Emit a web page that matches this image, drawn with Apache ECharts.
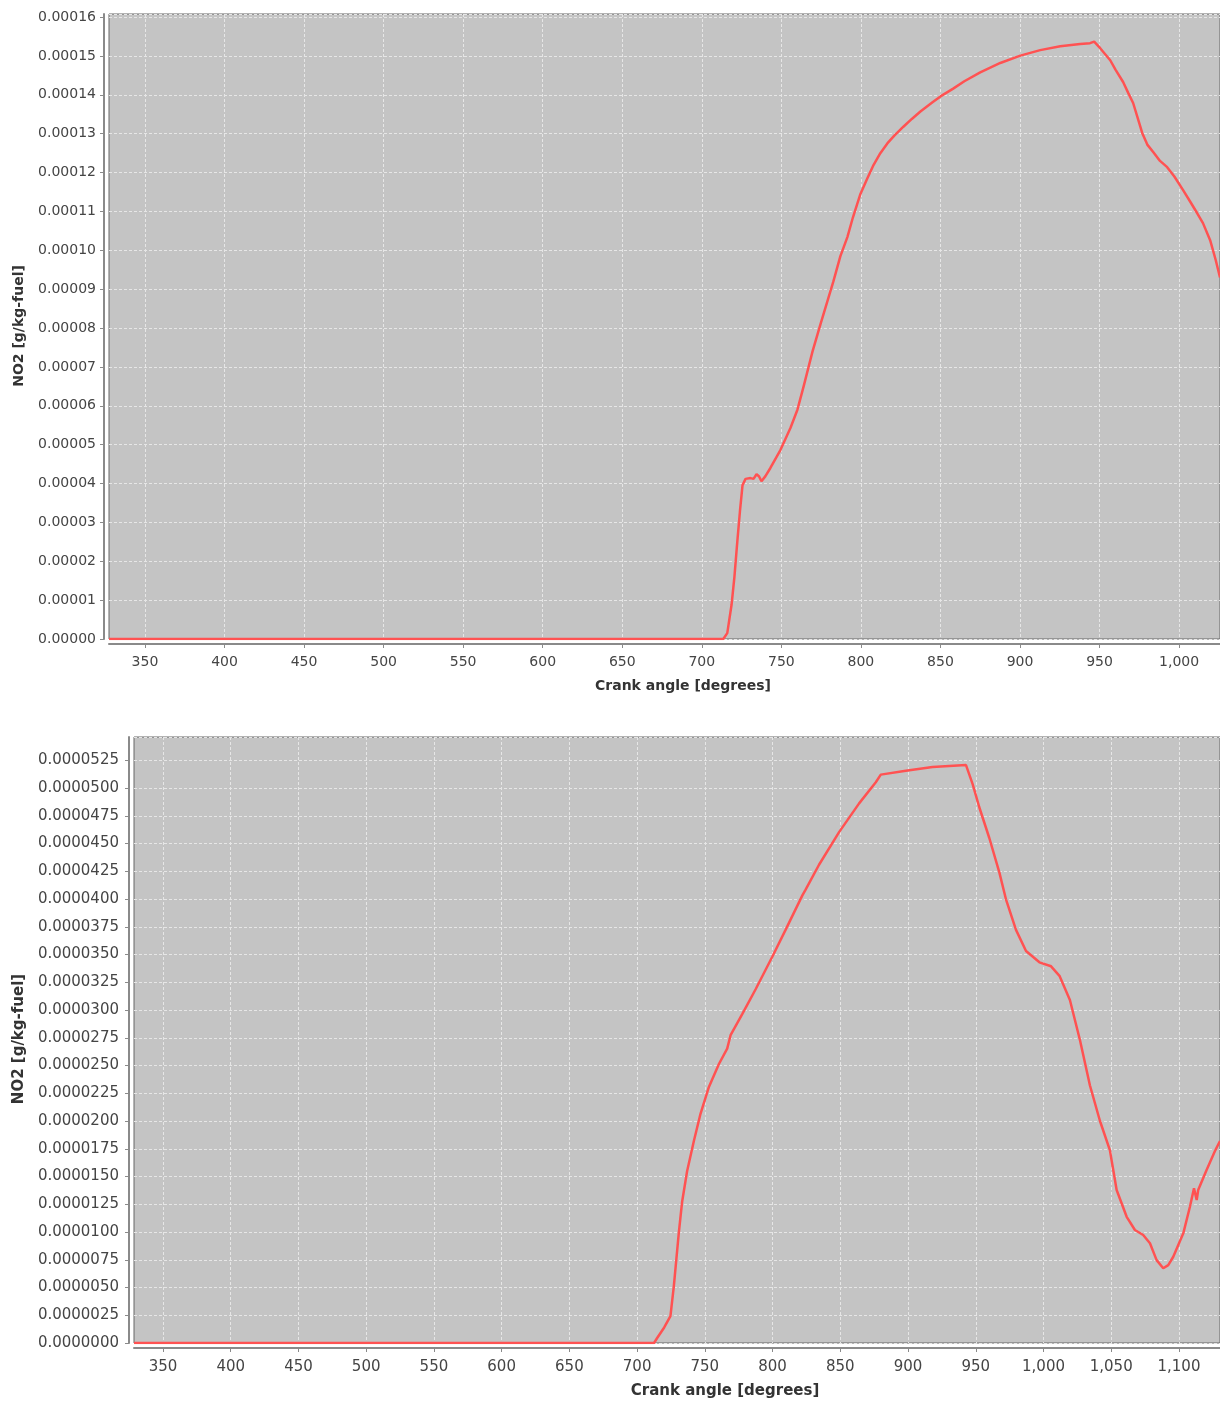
<!DOCTYPE html>
<html>
<head>
<meta charset="utf-8">
<script src="https://cdn.jsdelivr.net/npm/echarts@6/dist/echarts.min.js"></script>
<style>
html,body{margin:0;padding:0;background:#fff;}
#chart{width:1220px;height:1405px;}
</style>
</head>
<body>
<div id="chart"></div>
<script>
// ---- Top chart data: crank angle [deg] and NO2 [g/kg-fuel]
const crankTop = [327.4, 713.5, 716, 718.7, 720.5, 722.4, 724, 725.6, 727.5, 730.6, 732.5, 734.4, 736, 737.5, 740, 743.1, 749.4, 755.7, 760.1, 764, 769.6, 774.6, 782.7, 787.1, 791.5, 795, 799.7, 804, 808, 812.2, 816.6, 821, 826.7, 832, 837.4, 845, 850, 858, 865, 875, 887.6, 900.2, 912.7, 925.3, 937.8, 944, 946.6, 950.4, 956.7, 960, 964.8, 968, 971.1, 974, 976.8, 980, 983.7, 988, 992.5, 997, 1002.5, 1007, 1011.3, 1015, 1019.5, 1023, 1025.7];
const no2Top = [0, 0, 1.5e-6, 8.8e-6, 1.6e-5, 2.55e-5, 3.3e-5, 3.96e-5, 4.12e-5, 4.14e-5, 4.12e-5, 4.24e-5, 4.18e-5, 4.06e-5, 4.19e-5, 4.40e-5, 4.86e-5, 5.43e-5, 5.9e-5, 6.5e-5, 7.4e-5, 8.1e-5, 9.2e-5, 9.85e-5, 1.034e-4, 1.085e-4, 1.145e-4, 1.185e-4, 1.22e-4, 1.25e-4, 1.275e-4, 1.295e-4, 1.318e-4, 1.338e-4, 1.357e-4, 1.381e-4, 1.396e-4, 1.416e-4, 1.435e-4, 1.458e-4, 1.482e-4, 1.501e-4, 1.515e-4, 1.525e-4, 1.531e-4, 1.533e-4, 1.537e-4, 1.520e-4, 1.489e-4, 1.465e-4, 1.433e-4, 1.405e-4, 1.379e-4, 1.340e-4, 1.302e-4, 1.272e-4, 1.253e-4, 1.230e-4, 1.214e-4, 1.190e-4, 1.155e-4, 1.125e-4, 1.096e-4, 1.070e-4, 1.026e-4, 9.75e-5, 9.3e-5];

// ---- Bottom chart data
const crankBottom = [328.6, 712.5, 714.8, 720, 724.6, 727.1, 730.8, 733.2, 736.9, 741.9, 746.8, 753, 760.4, 766.5, 769, 777.6, 787.5, 799.8, 809.6, 822, 824.4, 834.3, 849.1, 863.9, 876.2, 879.9, 898.4, 918.1, 942.8, 944, 947.7, 952.6, 960, 967.4, 972.3, 979.7, 987.1, 997, 1005.6, 1011.8, 1019.5, 1026.9, 1034.3, 1041.7, 1049, 1051.5, 1054, 1061.4, 1067.5, 1073.6, 1078.6, 1083.5, 1088.4, 1092.1, 1095.8, 1103.2, 1108.1, 1111.1, 1113.1, 1114.2, 1120.4, 1126.9, 1130.3];
const no2Bottom = [0, 0, 4.5e-7, 1.4e-6, 2.42e-6, 5.11e-6, 9.94e-6, 1.27e-5, 1.547e-5, 1.82e-5, 2.065e-5, 2.307e-5, 2.514e-5, 2.652e-5, 2.773e-5, 2.963e-5, 3.187e-5, 3.48e-5, 3.722e-5, 4.033e-5, 4.085e-5, 4.309e-5, 4.603e-5, 4.862e-5, 5.052e-5, 5.121e-5, 5.155e-5, 5.19e-5, 5.207e-5, 5.207e-5, 5.035e-5, 4.827e-5, 4.55e-5, 4.24e-5, 3.998e-5, 3.722e-5, 3.532e-5, 3.43e-5, 3.394e-5, 3.308e-5, 3.09e-5, 2.73e-5, 2.32e-5, 2.0e-5, 1.738e-5, 1.558e-5, 1.378e-5, 1.137e-5, 1.018e-5, 9.73e-6, 8.98e-6, 7.47e-6, 6.73e-6, 7.02e-6, 7.77e-6, 9.88e-6, 1.228e-5, 1.393e-5, 1.288e-5, 1.378e-5, 1.558e-5, 1.738e-5, 1.82e-5];

// ---- Tick labels
const xTicksTop = [350, 400, 450, 500, 550, 600, 650, 700, 750, 800, 850, 900, 950, 1000];
const xTicksBottom = [350, 400, 450, 500, 550, 600, 650, 700, 750, 800, 850, 900, 950, 1000, 1050, 1100];
const xTitle = 'Crank angle [degrees]';
const yTitle = 'NO2 [g/kg-fuel]';

const FONT = 'DejaVu Sans';
const LABEL_COLOR = '#454545';
const AXIS_COLOR = '#8a8a8a';
const GRID_LINE = {show: true, lineStyle: {color: '#e6e6e6', width: 1, type: [3, 2]}};
const LINE_COLOR = '#ff5252';

function fmtX(v) { return Number(v).toLocaleString('en-US'); }

function zip(a, b) { return a.map((x, i) => [x, b[i]]); }

function xAxisCfg(gridIndex, min, max, ticks, fontSize, margin) {
  return {
    type: 'value', gridIndex, min, max, minInterval: 50, maxInterval: 50, splitNumber: 14,
    offset: 5,
    axisLine: {show: true, onZero: false, lineStyle: {color: AXIS_COLOR, width: 2}},
    axisTick: {show: true, length: 4, inside: false, lineStyle: {color: AXIS_COLOR}, customValues: ticks},
    axisLabel: {show: true, customValues: ticks, color: LABEL_COLOR, fontFamily: FONT, fontSize, margin,
      formatter: fmtX, showMinLabel: true, showMaxLabel: true},
    splitLine: GRID_LINE
  };
}
function yAxisCfg(gridIndex, max, interval, digits, fontSize, margin) {
  return {
    type: 'value', gridIndex, min: 0, max, interval,
    offset: 5,
    axisLine: {show: true, onZero: false, lineStyle: {color: AXIS_COLOR, width: 2}},
    axisTick: {show: true, length: 4, lineStyle: {color: AXIS_COLOR}},
    axisLabel: {color: LABEL_COLOR, fontFamily: FONT, fontSize, margin, showMaxLabel: false,
      formatter: v => Number(v).toFixed(digits)},
    splitLine: GRID_LINE
  };
}

const chart = echarts.init(document.getElementById('chart'), null, {renderer: 'canvas'});
chart.setOption({
  animation: false,
  backgroundColor: '#ffffff',
  grid: [
    {left: 109, top: 14, width: 1113, height: 625, show: true, backgroundColor: '#c4c4c4', borderColor: '#666', borderWidth: 1},
    {left: 134, top: 737, width: 1088, height: 606, show: true, backgroundColor: '#c4c4c4', borderColor: '#666', borderWidth: 1}
  ],
  xAxis: [
    xAxisCfg(0, 327.4, 1025.7, xTicksTop, 14, 11),
    xAxisCfg(1, 328.6, 1130.3, xTicksBottom, 15, 12)
  ],
  yAxis: [
    yAxisCfg(0, 0.0001608, 0.00001, 5, 14, 8),
    yAxisCfg(1, 0.0000546, 0.0000025, 7, 15, 10)
  ],
  series: [
    {type: 'line', xAxisIndex: 0, yAxisIndex: 0, data: zip(crankTop, no2Top), showSymbol: false,
      lineStyle: {color: LINE_COLOR, width: 2.5}, clip: true},
    {type: 'line', xAxisIndex: 1, yAxisIndex: 1, data: zip(crankBottom, no2Bottom), showSymbol: false,
      lineStyle: {color: LINE_COLOR, width: 2.5}, clip: true}
  ],
  graphic: [
    {type: 'text', x: 683, y: 686, style: {text: xTitle, x: 0, y: 0, align: 'center', verticalAlign: 'middle',
      font: 'bold 14px "DejaVu Sans"', fill: '#333'}},
    {type: 'text', x: 725, y: 1391, style: {text: xTitle, x: 0, y: 0, align: 'center', verticalAlign: 'middle',
      font: 'bold 15px "DejaVu Sans"', fill: '#333'}},
    {type: 'text', x: 19, y: 326, rotation: Math.PI / 2, style: {text: yTitle, x: 0, y: 0, align: 'center', verticalAlign: 'middle',
      font: 'bold 14px "DejaVu Sans"', fill: '#333'}},
    {type: 'text', x: 19, y: 1039, rotation: Math.PI / 2, style: {text: yTitle, x: 0, y: 0, align: 'center', verticalAlign: 'middle',
      font: 'bold 15px "DejaVu Sans"', fill: '#333'}}
  ]
});
</script>
</body>
</html>
